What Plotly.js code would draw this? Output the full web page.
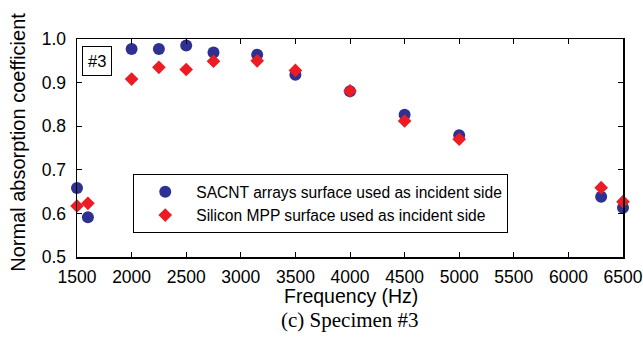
<!DOCTYPE html>
<html><head><meta charset="utf-8">
<script src="https://cdn.plot.ly/plotly-3.0.1.min.js"></script>
<style>body{margin:0;background:#fff}#c{width:643px;height:341px}</style>
</head><body><div id="c"></div>
<script>
const freq = [1500, 1600, 2000, 2250, 2500, 2750, 3150, 3500, 4000, 4500, 5000, 6300, 6500];
const sacnt = [0.658, 0.591, 0.977, 0.977, 0.985, 0.969, 0.964, 0.918, 0.880, 0.826, 0.779, 0.638, 0.613];
const silicon = [0.617, 0.623, 0.908, 0.935, 0.930, 0.949, 0.950, 0.928, 0.881, 0.812, 0.770, 0.659, 0.627];
const xTicks = [1500, 2000, 2500, 3000, 3500, 4000, 4500, 5000, 5500, 6000, 6500];
const yTicks = [0.5, 0.6, 0.7, 0.8, 0.9, 1.0];
const seriesNames = ["SACNT arrays surface used as incident side", "Silicon MPP surface used as incident side"];

const font = "Liberation Sans, Arial, sans-serif";
const traces = [
  {x: freq, y: sacnt, mode: "markers", type: "scatter", name: seriesNames[0], legendgroup: "a",
   marker: {symbol: "circle", size: 12, color: "#2e3192"}, cliponaxis: false},
  {x: freq, y: silicon, mode: "markers", type: "scatter", name: seriesNames[1], legendgroup: "b",
   marker: {symbol: "diamond", size: 10.5, color: "#ed1c24"}, cliponaxis: false}
];
const axisCommon = {showline: true, linecolor: "#000", linewidth: 1.5, mirror: "allticks",
  ticks: "inside", ticklen: 5, tickwidth: 1, tickcolor: "#000", showgrid: false, zeroline: false,
  tickfont: {family: font, size: 17.5, color: "#000"}};
const layout = {
  width: 643, height: 341,
  margin: {l: 77, r: 20, t: 39, b: 84},
  paper_bgcolor: "#fff", plot_bgcolor: "#fff",
  showlegend: true,
  xaxis: Object.assign({}, axisCommon, {range: [1500, 6500], tickvals: xTicks, ticktext: xTicks.map(String),
    ticklabelstandoff: 3}),
  yaxis: Object.assign({}, axisCommon, {range: [0.5, 1.0], tickvals: yTicks, ticktext: yTicks.map(v => v.toFixed(1)),
    ticklabelstandoff: 6}),
  legend: {x: 0.103, y: 0.380, xanchor: "left", yanchor: "top", bgcolor: "#fff",
    bordercolor: "#000", borderwidth: 1, traceorder: "grouped", tracegroupgap: 0, itemwidth: 52,
    font: {family: font, size: 15.6, color: "#000"}},
  annotations: [
    {text: "#3", xref: "paper", yref: "paper", x: 0.0085, y: 0.97, xanchor: "left", yanchor: "top",
     showarrow: false, font: {family: font, size: 16.5, color: "#000"}, bordercolor: "#000", borderwidth: 1,
     borderpad: 5, bgcolor: "#fff"},
    {text: "Frequency (Hz)", xref: "paper", yref: "paper", x: 0.502, y: -0.178, xanchor: "center", yanchor: "middle",
     showarrow: false, font: {family: font, size: 19.5, color: "#000"}},
    {text: "Normal absorption coefficient", xref: "paper", yref: "paper", x: -0.108, y: 0.524, xanchor: "center", yanchor: "middle",
     textangle: -90, showarrow: false, font: {family: font, size: 20, color: "#000"}},
    {text: "(c) Specimen #3", xref: "paper", yref: "paper", x: 0.50, y: -0.29, xanchor: "center", yanchor: "middle",
     showarrow: false, font: {family: "Liberation Serif, Times New Roman, serif", size: 21, color: "#000"}}
  ]
};
Plotly.newPlot("c", traces, layout, {displayModeBar: false, staticPlot: true});
</script></body></html>
